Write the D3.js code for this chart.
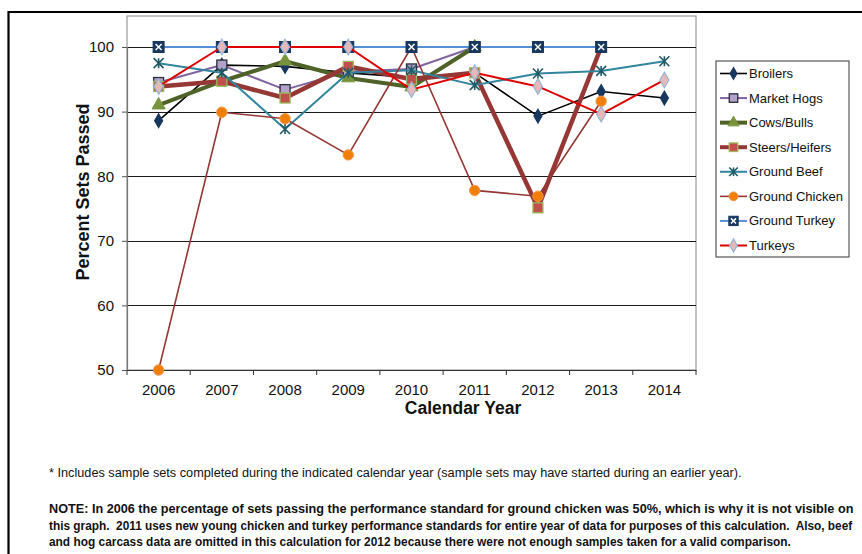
<!DOCTYPE html>
<html><head><meta charset="utf-8">
<script src="https://cdn.jsdelivr.net/npm/d3@7"></script>
<style>
html,body{margin:0;padding:0;background:#fff;}
svg text{font-family:"Liberation Sans",Arial,sans-serif;}
</style></head>
<body>
<svg id="chart" width="862" height="554"></svg>
<script>
const years = ["2006","2007","2008","2009","2010","2011","2012","2013","2014"];
const yTicks = [50,60,70,80,90,100];
const seriesNames = ["Broilers","Market Hogs","Cows/Bulls","Steers/Heifers","Ground Beef","Ground Chicken","Ground Turkey","Turkeys"];
const broilers      = [88.6, 97.2, 97.0, 96.0, 95.3, 96.0, 89.3, 93.1, 92.1];
const marketHogs    = [94.5, 97.2, 93.4, 96.2, 96.6, 100, null, null, null];
const cowsBulls     = [91.0, 94.7, 97.8, 95.2, 93.8, 100, null, null, null];
const steersHeifers = [93.9, 94.7, 92.1, 97.0, 95.0, 96.0, 75.1, 100, null];
const groundBeef    = [97.5, 96.0, 87.3, 96.0, 96.4, 94.1, 95.9, 96.3, 97.8];
const groundChicken = [50.0, 89.9, 88.9, 83.3, 100, 77.8, 76.9, 91.6, null];
const groundTurkey  = [100, 100, 100, 100, 100, 100, 100, 100, null];
const turkeys       = [93.9, 100, 100, 100, 93.4, 96.0, 93.9, 89.6, 94.9];
const axisTitleY = "Percent Sets Passed";
const axisTitleX = "Calendar Year";
const footnote1 = "* Includes sample sets completed during the indicated calendar year (sample sets may have started during an earlier year).";
const noteLines = [
 "NOTE: In 2006 the percentage of sets passing the performance standard for ground chicken was 50%, which is why it is not visible on",
 "this graph.  2011 uses new young chicken and turkey performance standards for entire year of data for purposes of this calculation.  Also, beef",
 "and hog carcass data are omitted in this calculation for 2012 because there were not enough samples taken for a valid comparison."
];

const allValues = [broilers, marketHogs, cowsBulls, steersHeifers, groundBeef, groundChicken, groundTurkey, turkeys];
const styles = [
 {line:"#000000", w:1.6, marker:"diamond", fill:"#17375E", stroke:"#17375E"},
 {line:"#8064A2", w:2,   marker:"square",  fill:"#B3A2C7", stroke:"#2b2b3b"},
 {line:"#4F6228", w:4,   marker:"triangle",fill:"#77933C", stroke:"#77933C"},
 {line:"#953735", w:4.5, marker:"square",  fill:"#C0504D", stroke:"#9BBB59"},
 {line:"#31859C", w:2,   marker:"asterisk",fill:"none",    stroke:"#215967"},
 {line:"#953735", w:1.6, marker:"circle",  fill:"#F07F09", stroke:"#F79646"},
 {line:"#558ED5", w:2,   marker:"xsquare", fill:"#17375E", stroke:"#17375E"},
 {line:"#E00000", w:2,   marker:"diamond2",fill:"#E6B9B8", stroke:"#95B3D7"}
];

const svg = d3.select("#chart");
const L = 127, R = 696, T = 16, B = 370;
const x = d3.scaleBand().domain(years).range([L, R]);
const y = d3.scaleLinear().domain([50, 100]).range([B, 47]);
const cx = d => x(d) + x.bandwidth()/2;

// outer frame
svg.append("path").attr("d", `M8.5,554 V12 H862`).attr("fill","none").attr("stroke","#000").attr("stroke-width",2.2);

// plot border
svg.append("rect").attr("x",L).attr("y",T).attr("width",R-L).attr("height",B-T)
  .attr("fill","none").attr("stroke","#9a9a9a").attr("stroke-width",1.2);

// gridlines
svg.append("g").selectAll("line").data(yTicks.filter(t=>t>50)).join("line")
  .attr("x1",L).attr("x2",R).attr("y1",d=>Math.round(y(d))+0.5).attr("y2",d=>Math.round(y(d))+0.5)
  .attr("stroke","#1a1a1a").attr("stroke-width",1.1);

// y axis
const yAxis = d3.axisLeft(y).tickValues(yTicks).tickSize(5).tickPadding(8);
const gy = svg.append("g").attr("transform",`translate(${L},0)`).call(yAxis);
gy.select(".domain").attr("stroke","#777").attr("stroke-width",1.2);
gy.selectAll(".tick line").attr("stroke","#555");
gy.selectAll("text").attr("font-size",15).attr("fill","#111").attr("font-family","Liberation Sans, Arial, sans-serif");

// x axis
const xAxis = d3.axisBottom(x).tickSize(0).tickPadding(14);
const gx = svg.append("g").attr("transform",`translate(0,${B})`).call(xAxis);
gx.select(".domain").attr("stroke","#333").attr("stroke-width",1.2);
gx.selectAll("text").attr("font-size",15).attr("fill","#111").attr("font-family","Liberation Sans, Arial, sans-serif");
// boundary ticks
const bounds = years.map(d => x(d)).concat([R]);
svg.append("g").selectAll("line").data(bounds).join("line")
  .attr("x1",d=>d).attr("x2",d=>d).attr("y1",B).attr("y2",B+5).attr("stroke","#333").attr("stroke-width",1);

// axis titles
svg.append("text").attr("transform",`translate(89,192) rotate(-90)`).attr("text-anchor","middle")
  .attr("font-weight","bold").attr("font-size",18).attr("fill","#111").text(axisTitleY);
svg.append("text").attr("x",463).attr("y",414).attr("text-anchor","middle")
  .attr("font-weight","bold").attr("font-size",17.5).attr("fill","#111").text(axisTitleX);

// marker drawing
function drawMarker(g, st, px, py, scale=1) {
  const s = scale;
  if (st.marker === "diamond" || st.marker === "diamond2") {
    g.append("path").attr("d", d3.symbol().type(d3.symbolDiamond).size(st.marker==="diamond"?55*s*s:70*s*s)())
      .attr("transform",`translate(${px},${py})`).attr("fill",st.fill).attr("stroke",st.stroke).attr("stroke-width",1.2);
  } else if (st.marker === "square") {
    const h = 5*s;
    g.append("rect").attr("x",px-h).attr("y",py-h).attr("width",2*h).attr("height",2*h)
      .attr("fill",st.fill).attr("stroke",st.stroke).attr("stroke-width",1.3);
  } else if (st.marker === "triangle") {
    g.append("path").attr("d", d3.symbol().type(d3.symbolTriangle).size(75*s*s)())
      .attr("transform",`translate(${px},${py})`).attr("fill",st.fill).attr("stroke",st.stroke).attr("stroke-width",1);
  } else if (st.marker === "asterisk") {
    const h = 5*s;
    g.append("path").attr("d",`M${px-h},${py-h}L${px+h},${py+h}M${px-h},${py+h}L${px+h},${py-h}M${px},${py-h}L${px},${py+h}`)
      .attr("stroke",st.stroke).attr("stroke-width",1.6).attr("fill","none");
  } else if (st.marker === "circle") {
    g.append("circle").attr("cx",px).attr("cy",py).attr("r",5.2*s).attr("fill",st.fill).attr("stroke",st.stroke).attr("stroke-width",1);
  } else if (st.marker === "xsquare") {
    const h = 5.5*s, k = 3*s;
    g.append("rect").attr("x",px-h).attr("y",py-h).attr("width",2*h).attr("height",2*h)
      .attr("fill",st.fill).attr("stroke",st.stroke).attr("stroke-width",1);
    g.append("path").attr("d",`M${px-k},${py-k}L${px+k},${py+k}M${px-k},${py+k}L${px+k},${py-k}`)
      .attr("stroke","#fff").attr("stroke-width",1.5);
  }
}

const line = d3.line().defined(d => d.v != null).x(d => cx(d.year)).y(d => y(d.v));
const plotG = svg.append("g");
allValues.forEach((vals, i) => {
  const st = styles[i];
  const pts = years.map((yr, j) => ({year: yr, v: vals[j]}));
  const g = plotG.append("g");
  g.append("path").attr("d", line(pts)).attr("fill","none").attr("stroke",st.line)
    .attr("stroke-width",st.w).attr("stroke-linejoin","round");
  pts.filter(p => p.v != null).forEach(p => drawMarker(g, st, cx(p.year), y(p.v)));
});

// legend
const lg = svg.append("g");
lg.append("rect").attr("x",716).attr("y",61).attr("width",133).attr("height",196)
  .attr("fill","#fff").attr("stroke","#555").attr("stroke-width",1.2);
const ly = d3.scalePoint().domain(seriesNames).range([73.5, 245.5]);
seriesNames.forEach((name, i) => {
  const st = styles[i];
  const yy = ly(name);
  lg.append("line").attr("x1",720).attr("x2",747).attr("y1",yy).attr("y2",yy)
    .attr("stroke",st.line).attr("stroke-width",Math.min(st.w,4));
  drawMarker(lg, st, 733.5, yy, 0.85);
  lg.append("text").attr("x",749).attr("y",yy+4.5).attr("font-size",13).attr("fill","#111").text(name);
});

// footnotes: horizontally scaled to fit their measured widths
function fitText(str, x0, y0, target, bold) {
  const t = svg.append("text").attr("x",0).attr("y",0).attr("font-size",13.5)
    .attr("font-weight", bold ? "bold" : "normal").attr("fill","#111")
    .style("white-space","pre").text(str);
  const w = t.node().getComputedTextLength();
  t.attr("transform", `translate(${x0},${y0}) scale(${target / w},1)`);
}
fitText(footnote1, 49, 477, 693, false);
const noteLen = [805, 804, 742];
const noteY = [513, 529.5, 546];
noteLines.forEach((t, i) => fitText(t, 49, noteY[i], noteLen[i], true));
</script>
</body></html>
